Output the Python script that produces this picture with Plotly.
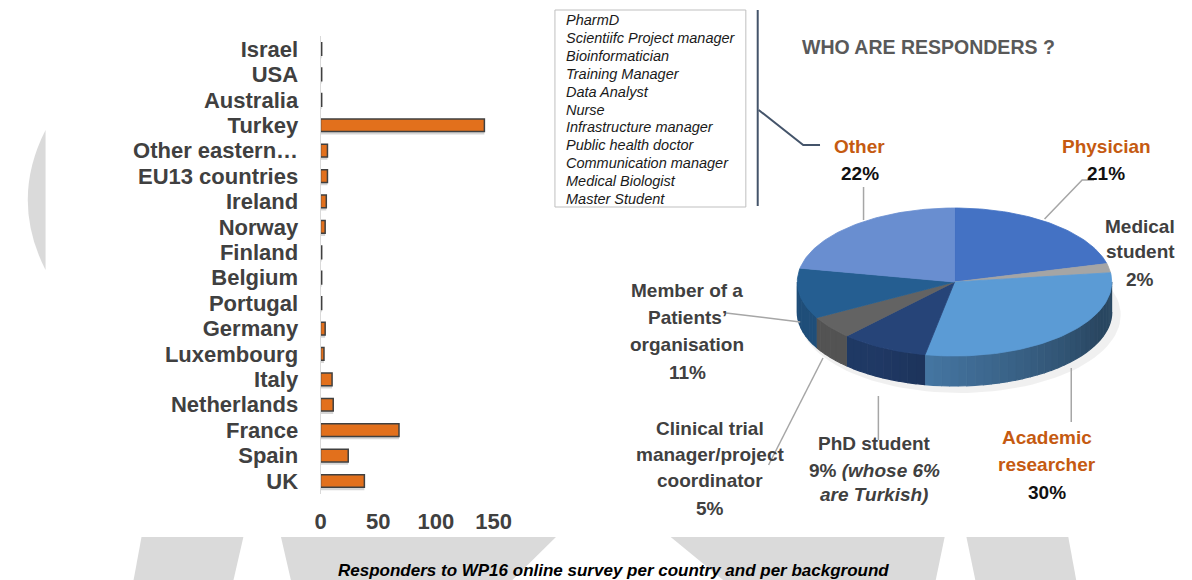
import math
import plotly.graph_objects as go

# ---------------- data ----------------
countries = ["UK", "Spain", "France", "Netherlands", "Italy", "Luxembourg", "Germany",
             "Portugal", "Belgium", "Finland", "Norway", "Ireland", "EU13 countries",
             "Other eastern…", "Turkey", "Australia", "USA", "Israel"]
counts = [38, 24, 68, 11, 10, 3, 4, 1, 1, 1, 4, 5, 6, 6, 142, 1, 1, 1]
x_ticks = [0, 50, 100, 150]

roles = ["Physician", "Medical student", "Academic researcher", "PhD student",
         "Clinical trial manager/project coordinator", "Member of a Patients' organisation", "Other"]
role_pct = [21, 2, 30, 9, 5, 11, 22]
role_colors = ["#4472C4", "#A5A5A5", "#5B9BD5", "#264478", "#636363", "#255E91", "#698ED0"]

other_roles = ["PharmD", "Scientiifc Project manager", "Bioinformatician", "Training Manager",
               "Data Analyst", "Nurse", "Infrastructure manager", "Public health doctor",
               "Communication manager", "Medical Biologist", "Master Student"]

title_text = "WHO ARE RESPONDERS ?"
caption_text = "Responders to WP16 online survey per country and per background"

W, H = 1192, 580
FONT = "Liberation Sans"
DARK = "#404040"
ORANGE = "#C55A11"

fig = go.Figure()

# ---------------- bar chart ----------------
fig.add_trace(go.Bar(x=counts, y=countries, orientation="h", width=0.5, offset=-0.36,
                     marker=dict(color="rgba(0,0,0,0.16)", line=dict(width=0)),
                     hoverinfo="skip", xaxis="x", yaxis="y"))
fig.add_trace(go.Bar(x=counts, y=countries, orientation="h", width=0.5,
                     marker=dict(color="#E2701C", line=dict(color="#404040", width=1.5)),
                     xaxis="x", yaxis="y"))

# ---------------- 3D-looking pie (computed from role_pct) ----------------
cx, cy, a, b, depth = 959, 282, 159, 74, 30


def pt(theta_deg, dy=0.0):
    t = math.radians(theta_deg)
    return cx + a * math.sin(t), cy - b * math.cos(t) + dy


def hex_scale(h, f):
    r, g, bb = int(h[1:3], 16), int(h[3:5], 16), int(h[5:7], 16)
    return "rgb(%d,%d,%d)" % (int(r * f), int(g * f), int(bb * f))


def add_poly(xs, ys, color, lw=0.8):
    fig.add_trace(go.Scatter(x=xs, y=ys, mode="lines", fill="toself", fillcolor=color,
                             line=dict(color=color, width=lw), hoverinfo="skip",
                             xaxis="x2", yaxis="y2"))


# faint shadow
xs, ys = [], []
for d in range(0, 361, 3):
    t = math.radians(d)
    xs.append(cx + 5 + (a + 4) * math.sin(t))
    ys.append(cy + depth + 3 - (b + 4) * math.cos(t))
add_poly(xs, ys, "rgba(0,0,0,0.06)", lw=0)

bounds = []
acc = 0.0
for p in role_pct:
    t0 = acc / 100 * 360
    acc += p
    t1 = acc / 100 * 360
    bounds.append((t0, t1))

# side walls (front half only)
for (t0, t1), col in zip(bounds, role_colors):
    s0, s1 = max(t0, 90), min(t1, 270)
    if s1 <= s0:
        continue
    n = max(1, int((s1 - s0) / 3))
    for i in range(n):
        u0 = s0 + (s1 - s0) * i / n
        u1 = s0 + (s1 - s0) * (i + 1) / n
        um = (u0 + u1) / 2
        f = 0.46 + 0.38 * min(1, max(0, (um - 115) / 95))
        xs, ys = [], []
        for d in [u0, um, u1]:
            x, y = pt(d)
            xs.append(x); ys.append(y)
        for d in [u1, um, u0]:
            x, y = pt(d, depth)
            xs.append(x); ys.append(y)
        add_poly(xs, ys, hex_scale(col, f), lw=1.2)

# top faces
for (t0, t1), col in zip(bounds, role_colors):
    xs, ys = [cx], [cy]
    n = max(2, int((t1 - t0) / 1.5))
    for i in range(n + 1):
        x, y = pt(t0 + (t1 - t0) * i / n)
        xs.append(x); ys.append(y)
    xs.append(cx); ys.append(cy)
    add_poly(xs, ys, col)

# ---------------- layout ----------------
x_px0, px_per = 318, 175 / 150
xr = [0, 160]
fig.update_layout(
    width=W, height=H, margin=dict(l=0, r=0, t=0, b=0),
    paper_bgcolor="white", plot_bgcolor="rgba(0,0,0,0)",
    showlegend=False, barmode="overlay",
    xaxis=dict(domain=[x_px0 / W, (x_px0 + xr[1] * px_per) / W], range=xr,
               tickvals=x_ticks, ticks="", showgrid=False, zeroline=False, showline=False,
               tickfont=dict(family=FONT, size=22, color=DARK, weight="bold"),
               ticklabelstandoff=12, anchor="y", fixedrange=True),
    yaxis=dict(domain=[1 - 493.7 / H, 1 - 36.3 / H], range=[-0.5, 17.5], type="category",
               categoryorder="array", categoryarray=countries,
               tickmode="array", tickvals=countries, ticktext=countries,
               ticks="", showgrid=False, zeroline=False, showline=True,
               linecolor="#d9d9d9", linewidth=1,
               tickfont=dict(family=FONT, size=22, color=DARK, weight="bold"),
               ticklabelstandoff=17, anchor="x", fixedrange=True),
    xaxis2=dict(domain=[0, 1], range=[0, W], visible=False, anchor="y2", fixedrange=True),
    yaxis2=dict(domain=[0, 1], range=[H, 0], visible=False, anchor="x2", fixedrange=True),
)

shapes = []
# background slide decoration
bg = "#dadada"
shapes.append(dict(type="path", path="M 40,130 Q 4,200 40,270 Z", xref="x2", yref="y2",
                   fillcolor=bg, line=dict(width=0), layer="below"))
for quad in [[(137, 537), (240, 537), (230, 580), (129, 580)],
             [(278, 537), (556, 537), (512, 580), (288, 580)],
             [(672, 537), (949, 537), (940, 580), (725, 580)],
             [(971, 537), (1074, 537), (1082, 580), (980, 580)]]:
    path = "M " + " L ".join("%g,%g" % q for q in quad) + " Z"
    shapes.append(dict(type="path", path=path, xref="x2", yref="y2",
                       fillcolor=bg, line=dict(width=0), layer="below"))

# box listing "Other" roles + bracket
shapes.append(dict(type="rect", x0=555, y0=10, x1=748, y1=207, xref="x2", yref="y2",
                   line=dict(color="#bfbfbf", width=1), fillcolor="rgba(0,0,0,0)"))
shapes.append(dict(type="line", x0=760, y0=10, x1=760, y1=206, xref="x2", yref="y2",
                   line=dict(color="#44546A", width=2)))
shapes.append(dict(type="path", path="M 761,110 L 806,145 L 823,145", xref="x2", yref="y2",
                   line=dict(color="#44546A", width=2)))

# leader lines
lead = "#a6a6a6"
for path in ["M 867,187 L 867,220",
             "M 1100,180 L 1088,180 L 1050,219",
             "M 728,313 L 803,322",
             "M 771,465 L 826,358",
             "M 882,396 L 882,440",
             "M 1077,368 L 1077,422"]:
    shapes.append(dict(type="path", path=path, xref="x2", yref="y2",
                       line=dict(color=lead, width=1.5)))
fig.update_layout(shapes=shapes)

ann = []


def add_text(x, y, text, size=19, color=DARK, xanchor="center", family=FONT):
    ann.append(dict(x=x, y=y, xref="x2", yref="y2", text=text, showarrow=False,
                    xanchor=xanchor, yanchor="middle",
                    font=dict(family=family, size=size, color=color)))


for i, r in enumerate(other_roles):
    add_text(564, 20 + i * 17.9, "<i>%s</i>" % r, size=14.5, color="#1a1a1a", xanchor="left")

add_text(933, 47, "<b>%s</b>" % title_text, size=19.5, color="#595959")

# pie labels
add_text(863, 146, "<b>Other</b>", color=ORANGE)
add_text(863, 173, "<b>%d%%</b>" % role_pct[6], color="#111111")
add_text(1113, 146, "<b>Physician</b>", color=ORANGE)
add_text(1112, 173, "<b>%d%%</b>" % role_pct[0], color="#111111")
add_text(1147, 226, "<b>Medical</b>")
add_text(1147, 251, "<b>student</b>")
add_text(1147, 279, "<b>%d%%</b>" % role_pct[1])
add_text(689, 290, "<b>Member of a</b>")
add_text(689, 317, "<b>Patients’</b>")
add_text(689, 344, "<b>organisation</b>")
add_text(689, 372, "<b>%d%%</b>" % role_pct[5])
add_text(712, 428, "<b>Clinical trial</b>")
add_text(712, 454, "<b>manager/project</b>")
add_text(712, 480, "<b>coordinator</b>")
add_text(712, 508, "<b>%d%%</b>" % role_pct[4])
add_text(878, 443, "<b>PhD student</b>")
add_text(878, 470, "<b>%d%% <i>(whose 6%%</i></b>" % role_pct[3])
add_text(878, 494, "<b><i>are Turkish)</i></b>")
add_text(1052, 437, "<b>Academic</b>", color=ORANGE)
add_text(1052, 464, "<b>researcher</b>", color=ORANGE)
add_text(1052, 492, "<b>%d%%</b>" % role_pct[2], color="#111111")

add_text(614, 570, "<b><i>%s</i></b>" % caption_text, size=17, color="#000000")

fig.update_layout(annotations=ann)
fig.write_html("out.html", config={"displayModeBar": False},
               post_script="document.body.style.margin='0';document.body.style.padding='0';")
